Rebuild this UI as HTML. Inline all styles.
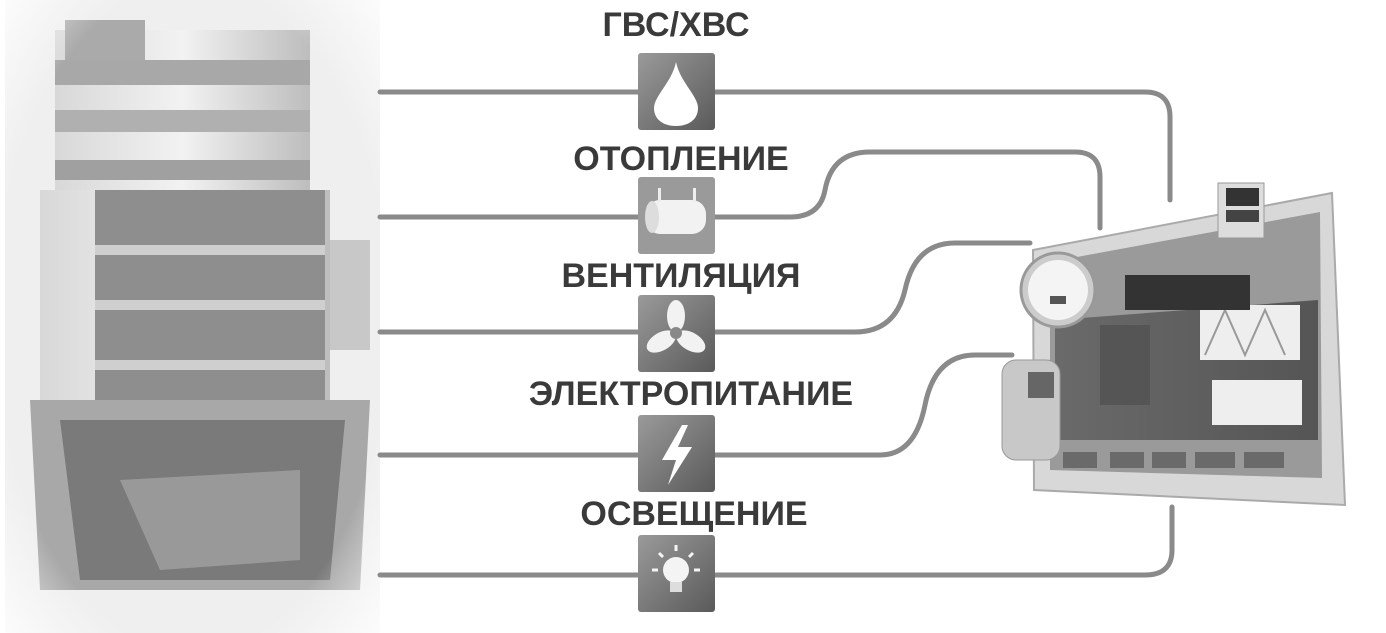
<!DOCTYPE html>
<html><head><meta charset="utf-8"><style>
html,body{margin:0;padding:0;background:#fff;width:1386px;height:633px;overflow:hidden}
svg{display:block}
text{font-family:"Liberation Sans",sans-serif;font-weight:bold;fill:#3a3a3a;font-size:34px;text-anchor:middle}
</style></head><body>
<svg width="1386" height="633" viewBox="0 0 1386 633">
<defs>
<linearGradient id="bg" x1="0" x2="1"><stop offset="0" stop-color="#d8d8d8"/><stop offset="0.5" stop-color="#f2f2f2"/><stop offset="1" stop-color="#bdbdbd"/></linearGradient>
<linearGradient id="ic" x1="0" y1="0" x2="1" y2="1"><stop offset="0" stop-color="#9a9a9a"/><stop offset="0.5" stop-color="#7a7a7a"/><stop offset="1" stop-color="#5a5a5a"/></linearGradient>
<linearGradient id="scr" x1="0" x2="1"><stop offset="0" stop-color="#6a6a6a"/><stop offset="1" stop-color="#555"/></linearGradient>
<radialGradient id="fade" cx="0.5" cy="0.5" r="0.75"><stop offset="0.7" stop-color="#fff" stop-opacity="0"/><stop offset="1" stop-color="#fff" stop-opacity="1"/></radialGradient>
</defs>
<rect x="5" y="0" width="375" height="633" fill="#efefef"/>
<rect x="55" y="30" width="255" height="160" fill="url(#bg)"/>
<rect x="55" y="60" width="255" height="25" fill="#a8a8a8"/>
<rect x="55" y="110" width="255" height="22" fill="#b0b0b0"/>
<rect x="55" y="160" width="255" height="20" fill="#a0a0a0"/>
<rect x="65" y="20" width="80" height="40" fill="#aaa"/>
<rect x="40" y="190" width="290" height="220" fill="url(#bg)"/>
<rect x="95" y="190" width="230" height="210" fill="#8e8e8e"/>
<rect x="95" y="245" width="230" height="10" fill="#cfcfcf"/>
<rect x="95" y="300" width="230" height="10" fill="#cfcfcf"/>
<rect x="95" y="360" width="230" height="10" fill="#cfcfcf"/>
<rect x="330" y="240" width="40" height="110" fill="#c8c8c8"/>
<polygon points="30,400 370,400 360,590 40,590" fill="#a8a8a8"/>
<polygon points="60,420 345,420 330,580 80,580" fill="#7a7a7a"/>
<polygon points="120,480 300,470 300,560 160,570" fill="#999"/>
<rect x="5" y="0" width="375" height="633" fill="url(#fade)"/>
<g fill="none" stroke="#8a8a8a" stroke-width="5" stroke-linecap="round">
<path d="M380 92 H1145 Q1170 92 1170 117 V200"/>
<path d="M380 217 H790 Q820 217 825 190 Q832 152 870 152 H1075 Q1100 152 1100 177 V228"/>
<path d="M380 332 H855 Q895 332 905 290 Q915 243 955 243 H1030"/>
<path d="M380 455 H880 Q915 455 925 405 Q935 355 975 355 H1012"/>
<path d="M380 575 H1145 Q1172 575 1172 550 V507"/>
</g>
<g>
<rect x="638" y="53" width="77" height="77" rx="3" fill="url(#ic)"/>
<path d="M676 62 C672 82 654 96 654 108 C654 120 664 126 676 126 C688 126 698 120 698 108 C698 96 680 82 676 62Z" fill="#fff"/>
<rect x="638" y="177" width="77" height="77" rx="3" fill="#9a9a9a"/>
<rect x="646" y="200" width="60" height="34" rx="14" fill="#f2f2f2"/>
<ellipse cx="652" cy="217" rx="7" ry="16" fill="#ddd"/>
<rect x="658" y="188" width="3" height="14" fill="#eee"/><rect x="693" y="188" width="3" height="14" fill="#eee"/>
<rect x="638" y="295" width="77" height="77" rx="3" fill="url(#ic)"/>
<g fill="#f2f2f2" transform="translate(676,333)">
<ellipse cx="0" cy="-17" rx="9" ry="16"/><ellipse cx="0" cy="-17" rx="9" ry="16" transform="rotate(120)"/><ellipse cx="0" cy="-17" rx="9" ry="16" transform="rotate(240)"/><circle r="6" fill="#888"/></g>
<rect x="638" y="415" width="77" height="77" rx="3" fill="url(#ic)"/>
<polygon points="682,425 662,460 676,460 668,485 692,447 678,447 688,425" fill="#fff"/>
<rect x="638" y="535" width="77" height="77" rx="3" fill="url(#ic)"/>
<circle cx="676" cy="570" r="13" fill="#f4f4f4"/><rect x="670" y="582" width="12" height="10" fill="#ddd"/>
<g stroke="#f4f4f4" stroke-width="3"><line x1="676" y1="545" x2="676" y2="551"/><line x1="652" y1="570" x2="658" y2="570"/><line x1="694" y1="570" x2="700" y2="570"/><line x1="659" y1="553" x2="663" y2="557"/><line x1="693" y1="553" x2="689" y2="557"/></g>
</g>
<text x="676" y="36">ГВС/ХВС</text>
<text x="681" y="170">ОТОПЛЕНИЕ</text>
<text x="681" y="287">ВЕНТИЛЯЦИЯ</text>
<text x="691" y="405">ЭЛЕКТРОПИТАНИЕ</text>
<text x="694" y="525">ОСВЕЩЕНИЕ</text>
<polygon points="1033,250 1332,193 1345,505 1034,490" fill="#d8d8d8" stroke="#aaa" stroke-width="2"/>
<polygon points="1050,262 1320,212 1322,478 1050,470" fill="#9a9a9a"/>
<polygon points="1055,320 1318,300 1318,440 1055,440" fill="url(#scr)"/>
<rect x="1200" y="305" width="100" height="55" fill="#eee"/>
<polyline points="1205,355 1225,310 1245,355 1265,310 1285,355" fill="none" stroke="#999" stroke-width="2"/>
<rect x="1212" y="380" width="90" height="45" fill="#eee"/>
<rect x="1100" y="325" width="50" height="80" fill="#555"/>
<rect x="1125" y="275" width="125" height="35" fill="#333"/>
<g fill="#6a6a6a"><rect x="1063" y="452" width="34" height="16"/><rect x="1110" y="452" width="34" height="16"/><rect x="1152" y="452" width="34" height="16"/><rect x="1195" y="452" width="40" height="16"/><rect x="1244" y="452" width="40" height="16"/></g>
<rect x="1218" y="183" width="46" height="55" fill="#ddd" stroke="#999"/>
<rect x="1226" y="188" width="33" height="18" fill="#333"/><rect x="1226" y="210" width="33" height="12" fill="#444"/>
<circle cx="1058" cy="290" r="37" fill="#ccc" stroke="#999" stroke-width="3"/>
<circle cx="1058" cy="290" r="30" fill="#f4f4f4"/>
<rect x="1050" y="296" width="16" height="8" fill="#555"/>
<rect x="1002" y="360" width="58" height="100" rx="14" fill="#c8c8c8" stroke="#999"/>
<rect x="1028" y="372" width="26" height="26" fill="#666"/>
</svg>
</body></html>
